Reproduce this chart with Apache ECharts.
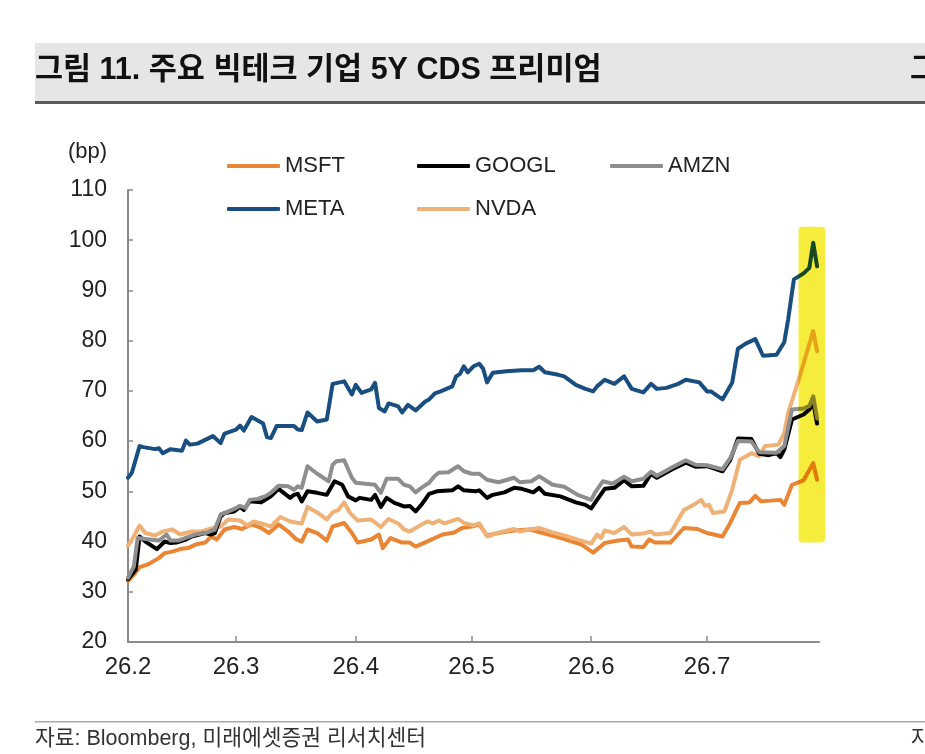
<!DOCTYPE html>
<html><head><meta charset="utf-8">
<script src="https://cdn.jsdelivr.net/npm/echarts@6/dist/echarts.min.js"></script>
<style>html,body{margin:0;padding:0;background:#fff;}#c{width:925px;height:754px;}</style>
</head><body><div id="c"></div>
<script>
// x = days since 2026-02-01
const tickDays = [0, 28, 59, 89, 120, 150];
const tickLabels = ['26.2', '26.3', '26.4', '26.5', '26.6', '26.7'];
const seriesNames = ['MSFT', 'GOOGL', 'AMZN', 'META', 'NVDA'];

const msft = [[0,32.1],[1.5,33.4],[3,34.9],[5,35.4],[8,36.7],[9.5,37.7],[11.5,38.0],[13.5,38.5],[15.5,38.7],[17.5,39.4],[20,39.8],[21.5,41.0],[23,40.4],[25,42.4],[27.5,42.9],[29.5,42.5],[32,43.4],[34.5,42.7],[36.5,41.7],[39,43.4],[41.5,42.0],[43.5,40.5],[45,40.0],[46.5,42.4],[49,41.7],[51.5,40.2],[53,43.0],[56,43.7],[58,41.7],[59.5,39.8],[63,40.4],[65,41.4],[66,38.7],[68,40.7],[71,39.8],[73,39.8],[74.5,39.0],[78,40.2],[81.5,41.4],[84.5,41.8],[86.5,42.7],[89,43.0],[91,43.4],[93,41.2],[96,41.7],[100,42.2],[104,42.4],[108,41.6],[113,40.5],[117.5,39.4],[120.5,37.8],[123.5,39.7],[127,40.2],[129.5,40.4],[130.5,39.0],[133.5,38.9],[135,40.4],[136.5,39.8],[140.5,39.8],[144,42.7],[147.5,42.5],[150,41.7],[154,41.0],[156,43.7],[158.5,47.7],[161,47.8],[162.5,49.1],[164,48.0],[169,48.3],[170,47.3],[172,51.3],[175,52.2],[177.5,55.6],[178.5,52.3]];

const googl = [[0,32.5],[2,34.4],[3,41.0],[4.5,40.0],[7.5,38.5],[9.5,40.0],[11,39.7],[12.5,39.8],[15,40.4],[16.5,41.0],[20,41.7],[21.5,41.4],[22.5,41.7],[24,45.0],[25,45.7],[27.5,46.0],[29,46.9],[30,46.3],[31.5,48.0],[34.5,47.8],[37,49.0],[39,50.5],[42,48.7],[43,49.3],[44,49.5],[45,48.0],[46.5,50.0],[49,49.7],[51.5,49.3],[53.5,52.0],[55.5,51.3],[57,49.0],[59,48.2],[60,48.7],[63,48.3],[64,49.3],[65.5,46.9],[67,48.7],[69,47.7],[71.5,47.0],[73,47.1],[74.5,46.0],[76,47.3],[78,49.5],[80,50.0],[84,50.2],[85.5,51.0],[87,50.2],[90,50.0],[91,50.2],[93,48.7],[94.5,49.3],[97.5,49.8],[100,50.7],[102,50.5],[105,49.8],[106.5,50.7],[108,49.5],[112,49.0],[116,47.8],[118.5,47.3],[120,46.6],[121.5,48.3],[123.5,50.5],[126,50.7],[128.5,52.2],[130.5,51.0],[133.5,51.1],[135.5,53.5],[137,52.7],[141,54.4],[144.5,55.7],[147,54.9],[150,55.0],[154,54.0],[156,56.2],[158,60.5],[161.5,60.4],[163.5,57.5],[166,57.2],[168,57.6],[169,56.8],[170,58.3],[172,64.3],[175,65.3],[176.5,66.3],[177.5,67.7],[178.5,63.5]];

const amzn = [[0,32.8],[1.5,35.0],[2.5,40.7],[4.5,40.5],[8,40.2],[10,41.4],[11,40.2],[13,40.2],[15.5,40.9],[17.5,41.4],[20,41.7],[22.5,42.4],[24,45.4],[25.5,45.8],[27.5,46.5],[29,47.1],[30.5,46.7],[31.5,48.3],[33.5,48.5],[35.5,49.0],[37,49.7],[39,51.1],[41.5,51.0],[43,50.3],[44,51.0],[45,50.7],[46.5,55.0],[49,53.5],[52,52.0],[53,55.3],[54,56.0],[56,56.2],[58,52.7],[59,51.7],[64,51.3],[65.5,49.7],[67,52.5],[70,52.5],[71.5,51.3],[73,51.0],[74.5,49.8],[76,50.7],[78,51.7],[79.5,53.1],[80.5,53.7],[83,53.8],[85.5,55.0],[87,54.0],[89,53.5],[91,53.5],[93,52.3],[96,51.8],[100,52.7],[101.5,51.8],[104.5,52.0],[106.5,53.0],[110,51.3],[113,50.9],[116.5,49.3],[120,48.3],[121,49.8],[123,52.0],[125.5,51.5],[128.5,52.9],[130.5,52.0],[133.5,52.5],[135.5,53.9],[137,53.1],[141,54.8],[144.5,56.2],[147,55.3],[150,55.2],[154,54.4],[156,56.6],[158,60.0],[161.5,59.9],[163.5,57.8],[168,57.7],[170,59.0],[172,66.3],[175,66.5],[176.5,67.0],[177.5,68.9],[178.5,64.5]];

const meta = [[0,52.7],[1,53.7],[3,59.0],[4,58.8],[7,58.4],[8,58.6],[9,57.6],[11,58.4],[14,58.1],[15,60.1],[16,59.3],[18,59.5],[22,61.0],[24,59.6],[25,61.5],[28,62.3],[29,63.1],[30,62.1],[32,64.8],[35,63.5],[36,60.8],[37,60.6],[38.5,63.0],[43,63.0],[44,62.3],[45,62.2],[46.5,65.7],[49,63.9],[51.5,64.3],[53,71.4],[56,71.9],[58,69.3],[59,71.2],[60.5,69.6],[63,70.3],[64,71.6],[65,66.6],[66.5,65.9],[67.5,67.5],[70,66.9],[71,65.7],[72.5,67.2],[74.5,66.1],[77,67.9],[78,68.3],[79.5,69.5],[81,69.9],[84,70.9],[85,72.9],[86,73.4],[87,74.9],[88,73.7],[89.5,74.9],[91,75.4],[92,74.4],[93,71.7],[94.5,73.6],[98,73.9],[102,74.1],[105,74.1],[106.5,74.8],[108,73.7],[111.5,73.2],[113,72.9],[116,71.2],[118.5,70.4],[120.5,69.9],[121.5,70.9],[122,70.6],[123.5,72.2],[126,71.4],[128.5,72.9],[130.5,70.4],[133.5,69.7],[135.5,71.4],[137,70.4],[139.5,70.6],[142.5,71.4],[144.5,72.2],[148,71.7],[150,69.9],[151,69.9],[154,68.3],[156.5,71.6],[158,78.4],[160,79.4],[162.5,80.3],[164.5,77.0],[168,77.2],[170,79.7],[171,84.2],[172.5,92.2],[175,93.4],[176.5,94.5],[177.5,99.5],[178.5,94.8]];

const nvda = [[0,39.2],[1.5,41.0],[3,43.2],[4.5,41.7],[7,41.2],[9,42.0],[11.5,42.4],[13.5,41.4],[16.5,42.0],[19,42.0],[22,42.7],[24,43.0],[26,44.4],[29,44.2],[31,43.2],[32.5,44.0],[35.5,43.4],[37,43.0],[39.5,44.9],[42,44.0],[43.5,43.8],[45,43.6],[46.5,46.9],[49,45.8],[51.5,44.4],[53,45.8],[54.5,46.3],[56,47.8],[57.5,45.7],[59.5,44.2],[63,44.4],[65.5,42.9],[67.5,44.5],[70,43.6],[71.5,42.4],[73,42.0],[74.5,42.7],[77.5,44.0],[79,43.6],[80.5,44.2],[82,43.6],[85.5,44.5],[87,43.7],[89.5,43.2],[91,43.6],[93,41.0],[96,41.8],[100,42.5],[101.5,42.0],[104,42.4],[106.5,42.7],[110,41.8],[113,41.2],[116.5,40.4],[120,39.6],[121.5,41.4],[122.5,40.7],[123.5,42.2],[126,41.7],[128.5,42.9],[130.5,41.4],[133.5,41.6],[135.5,42.0],[136.5,41.4],[140.5,41.7],[144,46.3],[146.5,47.3],[148.5,48.3],[149.5,47.1],[150.5,47.3],[151.5,45.7],[154.5,46.0],[156.5,50.3],[158.5,56.3],[161.5,57.6],[163.5,57.0],[165,59.0],[168.5,59.3],[170,61.6],[171,65.6],[174,72.9],[177.5,81.9],[178.5,77.9]];

// highlighted window (days, bp)
const highlightX = [173.7, 180.6];
const highlightY = [39.8, 102.7];

const colors = {MSFT:'#ea8534', GOOGL:'#000000', AMZN:'#8e8e8e', META:'#184e80', NVDA:'#efb176'};
const dataMap = {MSFT: msft, GOOGL: googl, AMZN: amzn, META: meta, NVDA: nvda};
const drawOrder = ['META', 'MSFT', 'NVDA', 'GOOGL', 'AMZN'];
const FONT = "'Liberation Sans', 'Noto Sans CJK KR', sans-serif";

const legendPos = {MSFT:[222,150], GOOGL:[412,150], AMZN:[605,150], META:[222,193], NVDA:[412,193]};

const chart = echarts.init(document.getElementById('c'), null, {renderer:'canvas'});
const option = {
  backgroundColor: '#ffffff',
  animation: false,
  grid: {left: 128, right: 106, top: 190, bottom: 112, containLabel: false},
  legend: seriesNames.map(n => ({
    data: [n], left: legendPos[n][0], top: legendPos[n][1],
    icon: 'roundRect', itemWidth: 53, itemHeight: 4, itemGap: 0,
    textStyle: {fontSize: 22, color: '#222', fontFamily: FONT, padding: [0,0,0,0]},
    selectedMode: false
  })),
  xAxis: {
    type: 'value', min: 0, max: 179,
    axisLine: {lineStyle: {color: '#8a8a8a', width: 2}},
    axisTick: {show: true, inside: true, length: 6, customValues: tickDays.slice(1), lineStyle: {color: '#8a8a8a', width: 1.5}},
    axisLabel: {customValues: tickDays, formatter: v => tickLabels[tickDays.indexOf(v)] || '', fontSize: 24, color: '#222', fontFamily: FONT, margin: 13},
    splitLine: {show: false}
  },
  yAxis: {
    type: 'value', min: 20, max: 110, interval: 10,
    axisLine: {show: true, lineStyle: {color: '#8a8a8a', width: 2}},
    axisTick: {show: true, inside: true, length: 5, lineStyle: {color: '#8a8a8a', width: 1.5}},
    axisLabel: {fontSize: 23, color: '#222', fontFamily: FONT, margin: 21},
    splitLine: {show: false}
  },
  series: drawOrder.map((n, i) => ({
    name: n, type: 'line', data: dataMap[n], showSymbol: false, symbol: 'none',
    z: 2 + i, color: colors[n],
    lineStyle: {width: 4, color: colors[n], join: 'round', cap: 'round'}
  })),
  graphic: [
    {type: 'rect', left: 35, top: 43, shape: {width: 890, height: 58}, style: {fill: '#e6e6e6'}, z: 0},
    {type: 'rect', left: 35, top: 101, shape: {width: 890, height: 3}, style: {fill: '#5a5a5a'}, z: 0},
    {type: 'text', left: 35, top: 55, style: {text: '그림 11. 주요 빅테크 기업 5Y CDS 프리미엄', fontSize: 30.5, fontWeight: 'bold', fill: '#111', fontFamily: FONT}, z: 1},
    {type: 'text', left: 910, top: 55, style: {text: '그림', fontSize: 30.5, fontWeight: 'bold', fill: '#111', fontFamily: FONT}, z: 1},
    {type: 'text', left: 68, top: 141, style: {text: '(bp)', fontSize: 22, fill: '#222', fontFamily: FONT}},
    {type: 'rect', left: 35, top: 721, shape: {width: 890, height: 1.5}, style: {fill: '#a8a8a8'}},
    {type: 'text', left: 35, top: 728, style: {text: '자료: Bloomberg, 미래에셋증권 리서치센터', fontSize: 21.5, fill: '#333', fontFamily: FONT}},
    {type: 'text', left: 911, top: 728, style: {text: '자료', fontSize: 21.5, fill: '#333', fontFamily: FONT}}
  ]
};
chart.setOption(option);

// highlight box placed through the axes' scales, blended like a highlighter
const p1 = chart.convertToPixel({gridIndex: 0}, [highlightX[0], highlightY[1]]);
const p2 = chart.convertToPixel({gridIndex: 0}, [highlightX[1], highlightY[0]]);
chart.setOption({graphic: option.graphic.concat([{
  type: 'rect', z: 100,
  shape: {x: p1[0], y: p1[1], width: p2[0] - p1[0], height: p2[1] - p1[1], r: 4},
  style: {fill: '#f6ec3b', blend: 'multiply'}
}])});
</script></body></html>
